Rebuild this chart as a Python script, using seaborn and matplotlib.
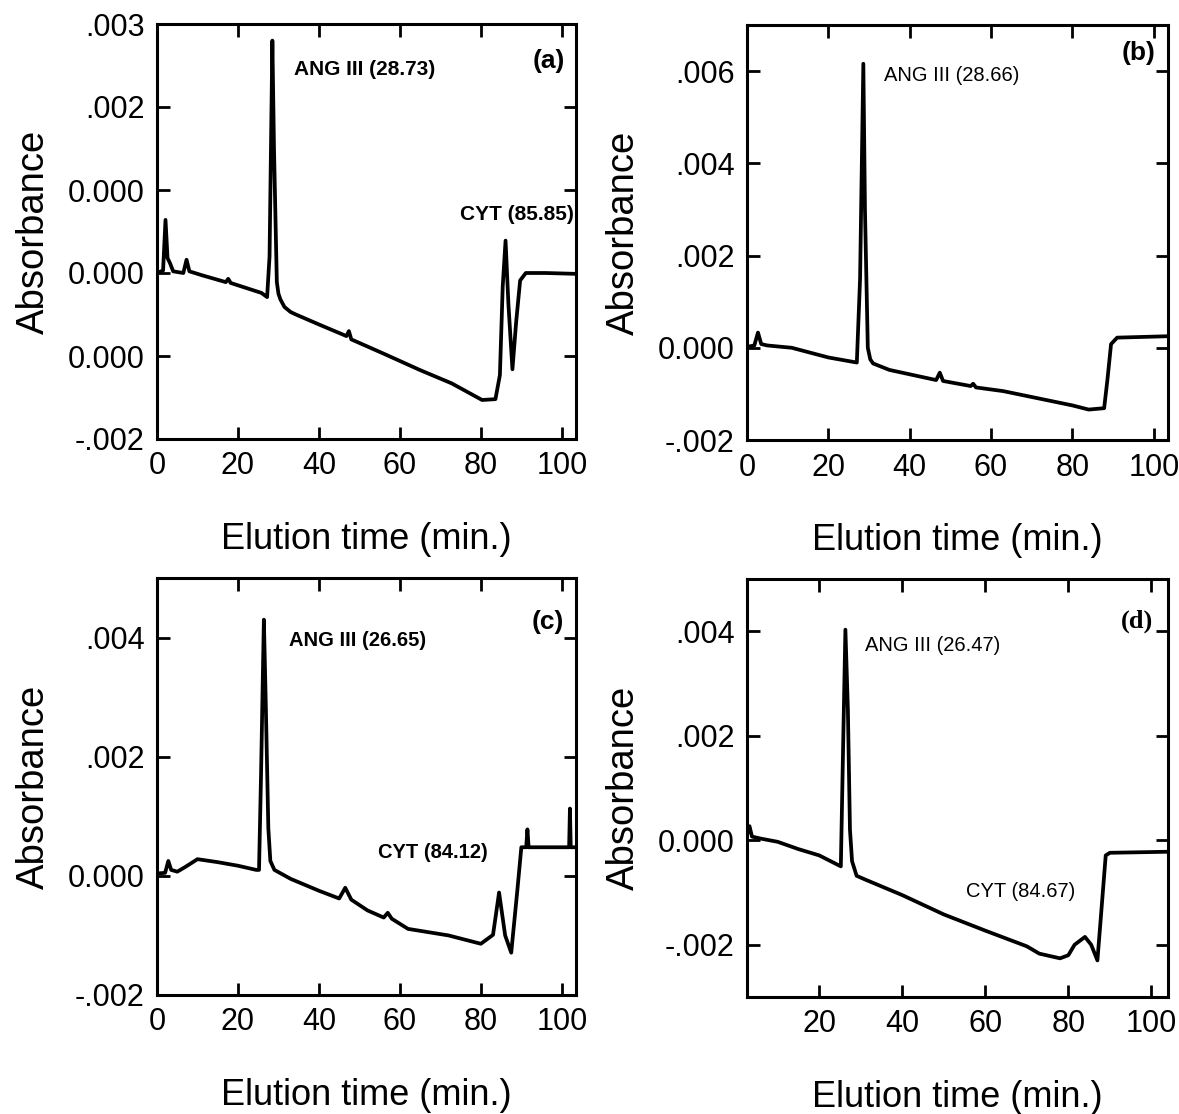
import matplotlib
matplotlib.use("Agg")
import matplotlib.pyplot as plt
import seaborn as sns
import pandas as pd

sns.set_style("ticks")
plt.rcParams['font.family'] = ['Liberation Sans', 'DejaVu Sans']
plt.rcParams['text.color'] = 'black'
plt.rcParams['axes.labelcolor'] = 'black'
plt.rcParams['xtick.color'] = 'black'
plt.rcParams['ytick.color'] = 'black'

# ---------------- data ----------------
# panel (a)
a_time = [0, 1.5, 2.1, 2.6, 3.2, 4.0, 6.5, 7.3, 8.0, 11.3, 17.0, 17.6, 18.2, 25.8, 27.2, 27.8,
          28.5, 28.9, 29.6, 30.0, 30.5, 31.5, 33.0, 34.3, 40, 46.8, 47.4, 48.0, 55.9, 65, 72.8,
          80.3, 83.6, 84.7, 85.4, 86.1, 86.8, 87.8, 88.7, 89.7, 91.1, 96, 103.3]
a_abs = [0.0, 0.00003, 0.00064, 0.00018, 0.00012, 0.00002, 0.0, 0.00016, 0.00002, -0.00003,
         -0.00011, -0.00007, -0.00012, -0.00024, -0.00029, 0.0002, 0.0028, 0.0015, -0.00011,
         -0.00025, -0.00032, -0.00041, -0.00047, -0.0005, -0.00062, -0.00076, -0.0007, -0.0008,
         -0.00097, -0.00117, -0.00133, -0.00153, -0.00152, -0.00123, -0.00016, 0.00039,
         -0.00037, -0.00116, -0.0006, -0.00009, 0.0, 0.0, -0.00001]

# panel (b)
b_time = [0, 1.8, 2.7, 3.5, 5, 11, 20, 27.0, 27.8, 28.6, 29.0, 29.7, 30.3, 31, 35, 46.5, 47.4,
          48.2, 55, 55.6, 56.3, 63, 80, 84, 87.8, 88.6, 89.5, 91, 103.3]
b_abs = [0.00002, 0.00005, 0.00033, 0.00008, 0.00005, 0.0, -0.00021, -0.00032, 0.0015, 0.00616,
         0.003, 0.0, -0.00025, -0.00034, -0.00048, -0.0007, -0.00054, -0.00072, -0.00083,
         -0.00078, -0.00086, -0.00094, -0.00125, -0.00134, -0.00131, -0.0007, 0.00008, 0.00022,
         0.00025]

# panel (c)
c_time = [0, 2.0, 2.8, 3.5, 5, 7, 10, 15, 20, 24.5, 25.2, 25.7, 26.4, 26.9, 27.5, 28.0, 29, 33,
          40, 45, 46.5, 48, 52, 56, 57, 58, 62, 72, 80, 83, 84.5, 86, 87.5, 89, 90, 91.2, 91.5,
          91.8, 96, 101.8, 102.0, 102.2, 103.3]
c_abs = [0.00004, 0.00005, 0.00025, 0.0001, 0.00007, 0.00015, 0.00028, 0.00023, 0.00017, 0.0001,
         0.0001, 0.0017, 0.0043, 0.0028, 0.0008, 0.00025, 0.0001, -0.00005, -0.00025, -0.00038,
         -0.0002, -0.0004, -0.00058, -0.0007, -0.00062, -0.00072, -0.00089, -0.001, -0.00114,
         -0.00099, -0.00028, -0.001, -0.00129, -0.00025, 0.00048, 0.00048, 0.00078, 0.00048,
         0.00048, 0.00048, 0.00113, 0.00048, 0.00048]

# panel (d)
d_time = [2.6, 3.2, 3.8, 6, 10, 15, 20, 25.2, 25.8, 26.3, 26.9, 27.4, 27.9, 29, 31, 40, 50, 60,
          70, 73, 78, 80, 81.5, 84, 85.5, 87, 88, 89, 90, 104]
d_abs = [0.0001, 0.00027, 0.00007, 0.00003, -0.00003, -0.00017, -0.00029, -0.0005, 0.002,
         0.00403, 0.0025, 0.0002, -0.0004, -0.00068, -0.00075, -0.00105, -0.00142, -0.00173,
         -0.00203, -0.00217, -0.00226, -0.0022, -0.002, -0.00185, -0.002, -0.0023, -0.0013,
         -0.00029, -0.00024, -0.00022]

# tick values and labels
a_yticks = [0.003, 0.002, 0.001, 0.0, -0.001, -0.002]
a_ylabels = [".003", ".002", "0.000", "0.000", "0.000", "-.002"]
b_yticks = [0.006, 0.004, 0.002, 0.0, -0.002]
b_ylabels = [".006", ".004", ".002", "0.000", "-.002"]
c_yticks = [0.004, 0.002, 0.0, -0.002]
c_ylabels = [".004", ".002", "0.000", "-.002"]
d_yticks = [0.004, 0.002, 0.0, -0.002]
d_ylabels = [".004", ".002", "0.000", "-.002"]
x_ticks = [0, 20, 40, 60, 80, 100]
d_xticks = [20, 40, 60, 80, 100]

W, H = 1179, 1114
fig = plt.figure(figsize=(W / 100, H / 100), dpi=100)

def box(l, t, r, b):
    return [l / W, 1 - b / H, (r - l) / W, (b - t) / H]

panels = [
    dict(rect=box(157, 24, 576, 439), x=a_time, y=a_abs, xlim=(0, 103.5), ylim=(-0.002, 0.003),
         xt=x_ticks, yt=a_yticks, yl=a_ylabels),
    dict(rect=box(747, 25, 1168, 440), x=b_time, y=b_abs, xlim=(0, 103.5), ylim=(-0.002, 0.007),
         xt=x_ticks, yt=b_yticks, yl=b_ylabels),
    dict(rect=box(157, 578, 576, 995), x=c_time, y=c_abs, xlim=(0, 103.5), ylim=(-0.002, 0.005),
         xt=x_ticks, yt=c_yticks, yl=c_ylabels),
    dict(rect=box(747, 579, 1168, 997), x=d_time, y=d_abs, xlim=(2.6, 104), ylim=(-0.003, 0.005),
         xt=d_xticks, yt=d_yticks, yl=d_ylabels),
]

axes = []
for p in panels:
    ax = fig.add_axes(p["rect"])
    df = pd.DataFrame({"t": p["x"], "A": p["y"]})
    sns.lineplot(data=df, x="t", y="A", ax=ax, color="black", lw=2.7, estimator=None, sort=False)
    ax.set_xlim(*p["xlim"])
    ax.set_ylim(*p["ylim"])
    ax.set_xticks(p["xt"])
    ax.set_xticklabels([str(v) for v in p["xt"]])
    ax.set_yticks(p["yt"])
    ax.set_yticklabels(p["yl"])
    ax.tick_params(direction="in", length=9, width=2, labelsize=22, top=True, right=True,
                   pad=9, colors="black")
    for s in ax.spines.values():
        s.set_linewidth(2.2)
        s.set_color("black")
    ax.set_xlabel("Elution time (min.)", fontsize=26, labelpad=29, color="black")
    ax.set_ylabel("Absorbance", fontsize=27.5, labelpad=11, color="black")
    axes.append(ax)

ax_a, ax_b, ax_c, ax_d = axes

ax_a.text(33.8, 0.00245, "ANG III (28.73)", fontsize=15, fontweight="bold", va="center")
ax_a.text(100.8, 0.00255, "(a)", fontsize=19, fontweight="bold", va="center", ha="right")
ax_a.text(74.8, 0.0007, "CYT (85.85)", fontsize=15, fontweight="bold", va="center")

ax_b.text(33.8, 0.0059, "ANG III (28.66)", fontsize=14.5, va="center")
ax_b.text(100.5, 0.0064, "(b)", fontsize=19, fontweight="bold", va="center", ha="right")

ax_c.text(32.7, 0.00395, "ANG III (26.65)", fontsize=14.5, fontweight="bold", va="center")
ax_c.text(100.5, 0.00426, "(c)", fontsize=19, fontweight="bold", va="center", ha="right")
ax_c.text(54.7, 0.0004, "CYT (84.12)", fontsize=14.5, fontweight="bold", va="center")

ax_d.text(31, 0.00373, "ANG III (26.47)", fontsize=14.5, va="center")
ax_d.text(100.5, 0.0042, "(d)", fontsize=19, fontweight="bold", va="center", ha="right",
          family=["Liberation Serif", "DejaVu Serif"])
ax_d.text(55.3, -0.00098, "CYT (84.67)", fontsize=14.5, va="center")

fig.savefig("out.png", dpi=100)
